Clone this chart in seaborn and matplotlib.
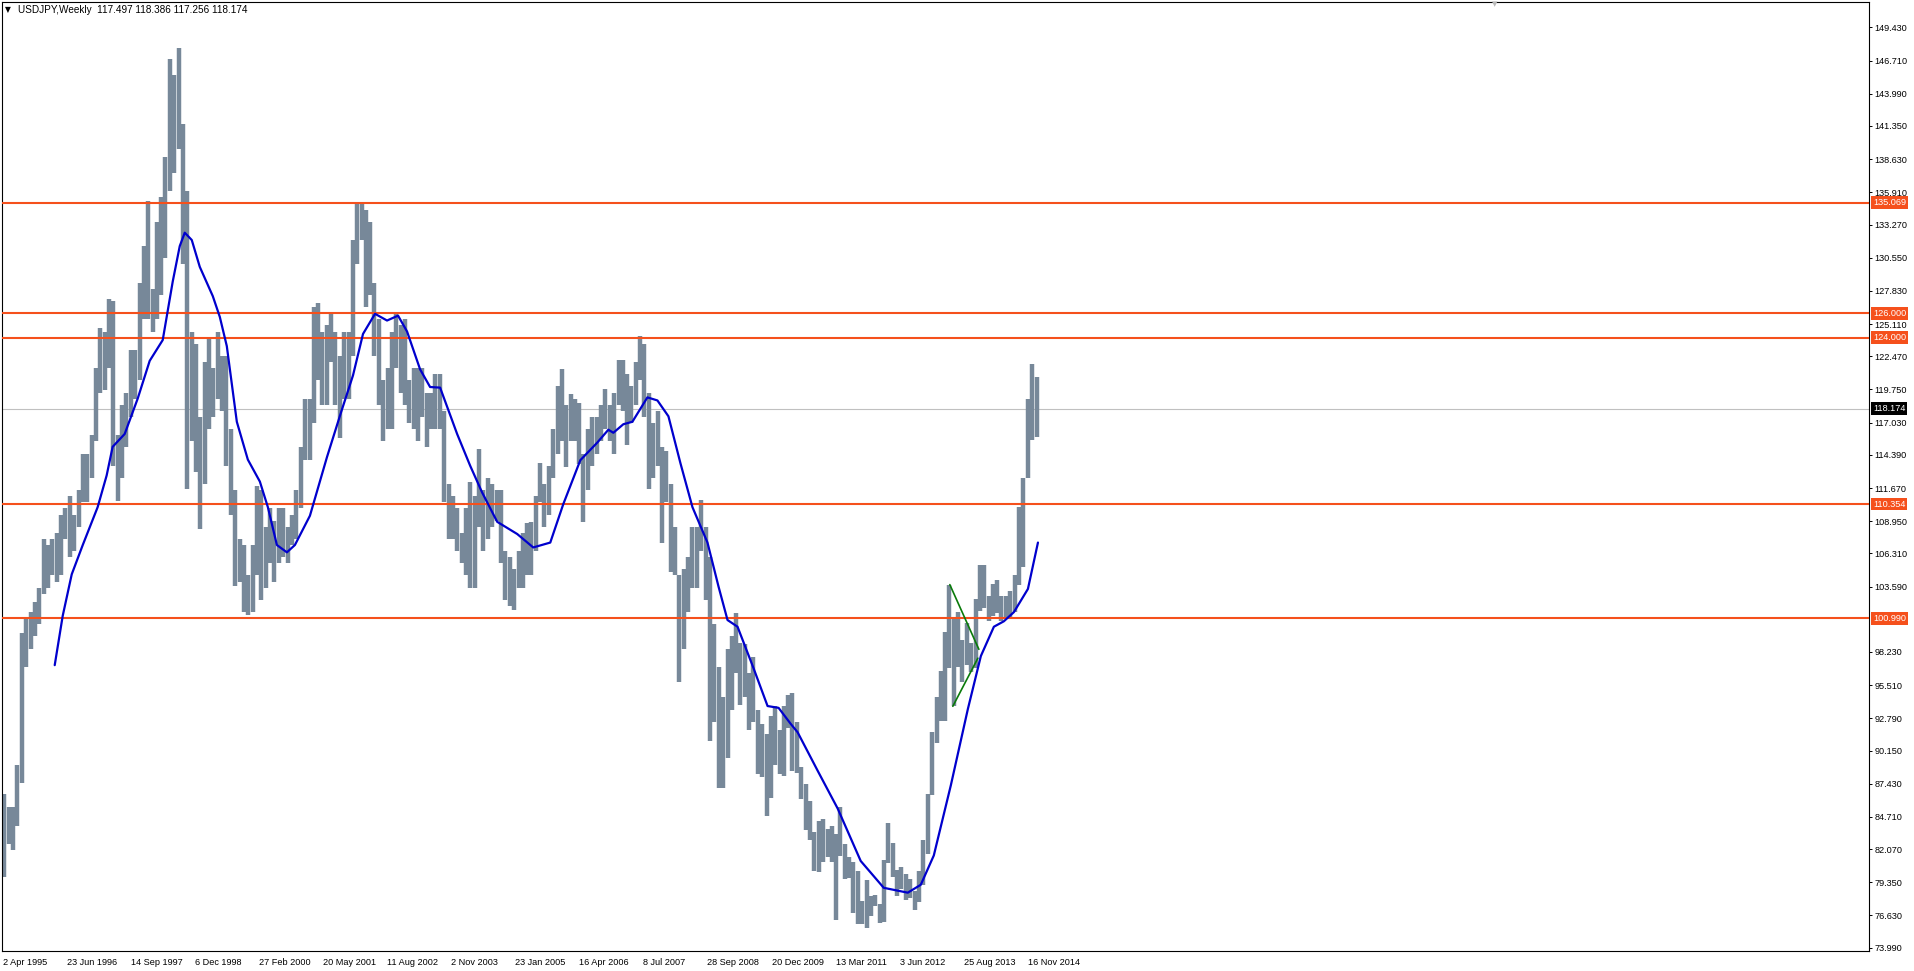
import numpy as np
import pandas as pd
import matplotlib
matplotlib.use("Agg")
import matplotlib.pyplot as plt
import matplotlib.transforms as mtransforms
import seaborn as sns

# ---------------- data ----------------
symbol_title = "USDJPY,Weekly"
last_ohlc = [117.497, 118.386, 117.256, 118.174]
history_start = "1995-04-02"
first_month = "1995-04-01"

# monthly high / low of the weekly bars (Apr 1995 .. Jan 2015)
high = [
    86.6, 85.5, 85.5, 89.0, 99.8, 101.0, 101.5, 102.3, 103.5,                       # 1995
    107.5, 107.0, 107.5, 108.0, 109.5, 110.0, 111.0, 109.5, 111.5, 114.5, 114.5, 116.0,  # 1996
    121.5, 124.8, 124.5, 127.2, 127.0, 116.0, 118.5, 119.5, 123.0, 123.0, 128.5, 131.5,  # 1997
    135.2, 128.0, 133.5, 135.5, 138.8, 146.8, 145.5, 147.7, 141.5, 136.0, 124.5, 123.5,  # 1998
    117.5, 122.0, 124.0, 121.5, 124.5, 122.5, 122.5, 116.5, 111.5, 107.5, 107.0, 104.5,  # 1999
    107.0, 111.8, 111.5, 108.5, 110.0, 109.0, 110.0, 110.0, 108.5, 109.5, 111.5, 115.0,  # 2000
    119.0, 119.0, 126.5, 126.8, 124.5, 125.0, 126.0, 124.5, 122.5, 124.5, 124.5, 132.0,  # 2001
    135.1, 135.0, 134.5, 133.5, 128.5, 125.5, 120.5, 121.5, 124.5, 126.0, 125.0, 125.5,  # 2002
    120.5, 121.5, 121.5, 121.5, 119.5, 119.5, 121.0, 121.0, 118.0, 112.0, 111.0, 110.0,  # 2003
    108.0, 110.0, 112.2, 111.0, 114.9, 111.5, 112.5, 112.0, 111.5, 111.5, 106.5, 106.0,  # 2004
    105.0, 106.5, 108.0, 108.8, 108.9, 111.0, 113.7, 112.0, 113.5, 116.5, 120.0, 121.4,  # 2005
    118.5, 119.4, 119.0, 118.6, 114.5, 116.5, 117.5, 117.5, 118.5, 119.8, 118.5, 119.5,  # 2006
    122.2, 122.2, 121.0, 120.0, 122.0, 124.1, 123.5, 119.5, 117.0, 118.0, 115.0, 114.7,  # 2007
    112.0, 108.5, 104.5, 105.0, 106.0, 108.5, 108.5, 110.7, 108.5, 106.0, 100.5, 97.0,   # 2008
    94.5, 98.5, 99.5, 101.4, 99.0, 98.9, 96.5, 97.8, 93.5, 92.3, 91.5, 93.0,             # 2009
    93.8, 91.8, 93.8, 94.7, 94.9, 92.5, 88.8, 87.4, 86.0, 83.5, 84.4, 84.5,              # 2010
    83.7, 84.0, 83.3, 85.5, 82.5, 81.4, 81.0, 80.3, 77.8, 79.5, 78.2, 78.3,              # 2011
    77.6, 81.2, 84.2, 82.6, 80.4, 80.6, 80.0, 79.6, 78.6, 80.3, 82.8, 86.6,              # 2012
    91.7, 94.5, 96.7, 99.9, 103.7, 100.9, 101.5, 99.2, 100.6, 99.0, 102.6, 105.4,        # 2013
    105.4, 102.8, 103.8, 104.1, 102.8, 102.8, 103.2, 104.5, 110.1, 112.5, 118.98, 121.85, # 2014
    120.8,                                                                               # 2015
]
low = [
    79.75, 82.5, 82.0, 84.0, 87.5, 97.0, 98.5, 99.5, 100.5,                              # 1995
    103.0, 103.5, 104.5, 104.0, 104.5, 107.5, 106.0, 106.5, 108.5, 110.5, 110.5, 112.5,  # 1996
    115.5, 119.5, 119.7, 121.5, 113.5, 110.6, 112.5, 115.0, 117.5, 119.0, 120.5, 125.5,  # 1997
    125.5, 124.5, 125.5, 127.5, 130.5, 136.0, 137.5, 139.5, 130.0, 111.6, 115.5, 113.0,  # 1998
    108.3, 112.0, 116.5, 117.5, 119.0, 118.0, 113.5, 109.5, 103.6, 104.0, 101.5, 101.3,  # 1999
    101.5, 104.5, 102.5, 103.5, 105.5, 104.0, 105.5, 106.0, 105.5, 107.0, 107.5, 110.0,  # 2000
    114.0, 114.0, 117.0, 120.5, 118.5, 118.5, 122.0, 118.5, 115.8, 119.0, 119.0, 122.5,  # 2001
    130.0, 132.0, 126.5, 127.5, 122.5, 118.5, 115.5, 116.5, 116.5, 121.5, 119.5, 118.5,  # 2002
    117.0, 116.5, 115.5, 117.5, 115.0, 116.5, 116.5, 116.5, 110.5, 107.5, 107.5, 106.5,  # 2003
    105.5, 104.5, 103.5, 103.5, 108.5, 106.5, 107.5, 108.5, 109.0, 105.5, 102.5, 102.0,  # 2004
    101.7, 103.5, 103.5, 104.5, 104.5, 106.5, 110.5, 108.5, 109.5, 112.5, 114.5, 115.5,  # 2005
    113.4, 115.5, 115.5, 113.6, 108.9, 111.5, 113.5, 114.5, 115.5, 116.5, 115.5, 114.5,  # 2006
    118.5, 118.0, 115.2, 117.0, 118.5, 120.5, 117.5, 111.6, 112.5, 113.5, 107.2, 110.5,  # 2007
    104.8, 104.5, 95.8, 98.5, 101.5, 103.5, 103.5, 106.5, 102.5, 90.9, 92.5, 87.1,       # 2008
    87.1, 89.5, 93.5, 96.5, 93.9, 94.5, 91.8, 92.5, 88.2, 88.0, 84.8, 86.3,              # 2009
    89.0, 88.2, 88.1, 92.0, 88.5, 88.3, 86.2, 83.6, 82.8, 80.3, 80.2, 81.0,              # 2010
    81.4, 81.0, 76.3, 81.5, 79.6, 79.7, 76.8, 75.9, 75.9, 75.6, 76.6, 77.4,              # 2011
    76.0, 76.1, 80.9, 79.8, 78.2, 78.8, 77.9, 78.1, 77.1, 77.7, 79.1, 81.7,              # 2012
    86.5, 90.8, 92.6, 92.6, 96.9, 93.8, 97.0, 95.8, 97.2, 96.6, 96.9, 101.6,             # 2013
    101.8, 100.8, 101.2, 101.4, 100.8, 101.1, 101.1, 101.5, 103.7, 105.2, 112.5, 115.6,  # 2014
    115.85,                                                                              # 2015
]

# moving average (blue line)
ma_dates = [
    "1996-04-01", "1996-05-27", "1996-07-29", "1996-10-14", "1997-01-26", "1997-03-30",
    "1997-05-11", "1997-08-03", "1997-11-02", "1998-01-25", "1998-04-26", "1998-07-05",
    "1998-08-23", "1998-09-27", "1998-11-15", "1999-01-10", "1999-04-11", "1999-05-30",
    "1999-07-18", "1999-09-26", "1999-12-12", "2000-03-05", "2000-04-30", "2000-07-02",
    "2000-09-10", "2000-11-05", "2001-02-18", "2001-06-17", "2001-09-16", "2001-12-16",
    "2002-02-24", "2002-05-19", "2002-08-11", "2002-10-27", "2002-12-29", "2003-03-30",
    "2003-06-08", "2003-08-17", "2003-12-14", "2004-03-14", "2004-06-06", "2004-09-19",
    "2005-02-06", "2005-05-29", "2005-09-25", "2005-12-25", "2006-04-23", "2006-08-20",
    "2006-11-05", "2006-12-10", "2007-02-18", "2007-04-22", "2007-08-05", "2007-10-14",
    "2007-12-30", "2008-03-23", "2008-06-15", "2008-09-28", "2008-12-14", "2009-02-15",
    "2009-04-26", "2009-08-16", "2009-11-22", "2010-02-07", "2010-05-02", "2010-06-20",
    "2010-11-07", "2011-03-27", "2011-09-04", "2012-02-12", "2012-07-29", "2012-10-28",
    "2013-01-27", "2013-05-26", "2013-09-22", "2013-12-22", "2014-03-23", "2014-06-01",
    "2014-08-10", "2014-11-16", "2015-01-25",
]
ma_values = [
    97.15, 101.2, 104.6, 107.0, 110.1, 112.7,
    115.05, 116.1, 119.0, 122.1, 123.8, 128.6,
    131.5, 132.6, 132.0, 129.8, 127.4, 125.7,
    123.3, 117.1, 114.0, 112.2, 110.1, 107.0,
    106.4, 107.0, 109.4, 114.2, 117.6, 120.9,
    124.3, 125.95, 125.4, 125.8, 124.5, 121.4,
    119.95, 119.9, 116.1, 113.5, 111.3, 108.9,
    107.9, 106.8, 107.2, 110.35, 113.95, 115.4,
    116.45, 116.2, 116.9, 117.1, 119.1, 118.85,
    117.55, 113.7, 110.1, 107.2, 103.6, 100.85,
    100.3, 96.9, 93.8, 93.65, 92.35, 91.65,
    88.5, 85.4, 81.1, 78.9, 78.5, 79.15,
    81.55, 87.3, 93.55, 97.9, 100.3, 100.75,
    101.5, 103.4, 107.2,
]

levels = [135.069, 126.000, 124.000, 110.354, 100.990]
last_price = 118.174

tri_upper_dates = ["2013-05-19", "2013-12-08"]
tri_upper_values = [103.75, 98.45]
tri_lower_dates = ["2013-06-09", "2013-12-01"]
tri_lower_values = [93.78, 97.72]

y_ticks = [149.430, 146.710, 143.990, 141.350, 138.630, 135.910, 133.270, 130.550,
           127.830, 125.110, 122.470, 119.750, 117.030, 114.390, 111.670, 108.950,
           106.310, 103.590, 98.230, 95.510, 92.790, 90.150, 87.430, 84.710,
           82.070, 79.350, 76.630, 73.990]
x_tick_labels = ["2 Apr 1995", "23 Jun 1996", "14 Sep 1997", "6 Dec 1998", "27 Feb 2000",
                 "20 May 2001", "11 Aug 2002", "2 Nov 2003", "23 Jan 2005", "16 Apr 2006",
                 "8 Jul 2007", "28 Sep 2008", "20 Dec 2009", "13 Mar 2011", "3 Jun 2012",
                 "25 Aug 2013", "16 Nov 2014"]

# ---------------- style ----------------
sns.set_style("white")
FONT = ["Liberation Sans", "DejaVu Sans"]
plt.rcParams["font.family"] = FONT
FS = 6.6

BAR = "#778899"
ORANGE = "#F5501C"
MA_BLUE = "#0000CD"
GREEN = "#0A7A0A"

t0 = pd.Timestamp(history_start)


def weeks(dates):
    d = pd.to_datetime(pd.Series(dates))
    return ((d - t0).dt.total_seconds() / (7 * 86400)).to_numpy()


W, H = 1914, 971
fig = plt.figure(figsize=(W / 100, H / 100), dpi=100)
ax_l, ax_r, ax_t, ax_b = 2, 1869, 2, 951
ax = fig.add_axes([ax_l / W, (H - ax_b) / H, (ax_r - ax_l) / W, (ax_b - ax_t) / H])

# monthly bars
months = pd.date_range(first_month, periods=len(high), freq="MS") + pd.Timedelta(days=14)
mx = weeks(months)
ax.vlines(mx, low, high, color=BAR, lw=3.2, capstyle="butt", zorder=2)

# horizontal levels
for lv in levels:
    ax.axhline(lv, color=ORANGE, lw=1.5, zorder=3)
ax.axhline(last_price, color="#C0C0C0", lw=0.8, zorder=1)

# moving average
ma_df = pd.DataFrame({"w": weeks(ma_dates), "v": ma_values})
sns.lineplot(data=ma_df, x="w", y="v", ax=ax, color=MA_BLUE, lw=1.6,
             sort=False, estimator=None, zorder=4)

# triangle trend lines
for dts, vals in [(tri_upper_dates, tri_upper_values), (tri_lower_dates, tri_lower_values)]:
    tdf = pd.DataFrame({"w": weeks(dts), "v": vals})
    sns.lineplot(data=tdf, x="w", y="v", ax=ax, color=GREEN, lw=1.2,
                 sort=False, estimator=None, zorder=5)

# axes limits (1 px per week)
px_per_week = 1.0014
x0 = -0.5
ax.set_xlim(x0, x0 + (ax_r - ax_l) / px_per_week)
ax.set_ylim(73.72, 151.51)
ax.set_xlabel("")
ax.set_ylabel("")

# x ticks
xt = weeks(pd.to_datetime(x_tick_labels, format="%d %b %Y"))
ax.set_xticks(xt)
ax.set_xticklabels(x_tick_labels, ha="left", fontsize=FS, color="black")
ax.tick_params(axis="x", direction="out", length=3, width=0.7, pad=2, colors="black")

# y ticks on the right
ax.yaxis.tick_right()
ax.set_yticks(y_ticks)
ax.set_yticklabels([f"{v:.3f}" for v in y_ticks], fontsize=FS, color="black")
ax.tick_params(axis="y", direction="out", length=2.2, width=0.7, pad=2, colors="black")

for s in ax.spines.values():
    s.set_visible(True)
    s.set_color("black")
    s.set_linewidth(0.8)

# price labels on the right axis
trans = mtransforms.blended_transform_factory(ax.transAxes, ax.transData)
xoff = 1.0 + 4 / (ax_r - ax_l)
for lv in levels:
    ax.text(xoff, lv, f"{lv:.3f}", transform=trans, ha="left", va="center",
            fontsize=FS, color="white", clip_on=False, zorder=10,
            bbox=dict(boxstyle="square,pad=0.2", fc=ORANGE, ec="none"))
ax.text(xoff, last_price, f"{last_price:.3f}", transform=trans, ha="left", va="center",
        fontsize=FS, color="white", clip_on=False, zorder=10,
        bbox=dict(boxstyle="square,pad=0.2", fc="black", ec="none"))

# header text
fig.text(5 / W, 1 - 10 / H, "\u25BC", fontsize=5.5, ha="left", va="center",
         family=["DejaVu Sans"], color="black")
fig.text(18 / W, 1 - 10 / H,
         f"{symbol_title}  " + " ".join(f"{v:.3f}" for v in last_ohlc),
         fontsize=7.2, ha="left", va="center", color="black")
# chart-shift marker
fig.text(1495 / W, 1 - 4 / H, "\u25BC", fontsize=5, ha="center", va="center",
         family=["DejaVu Sans"], color="#B8B8B8")

fig.savefig("out.png", dpi=100, facecolor="white")
